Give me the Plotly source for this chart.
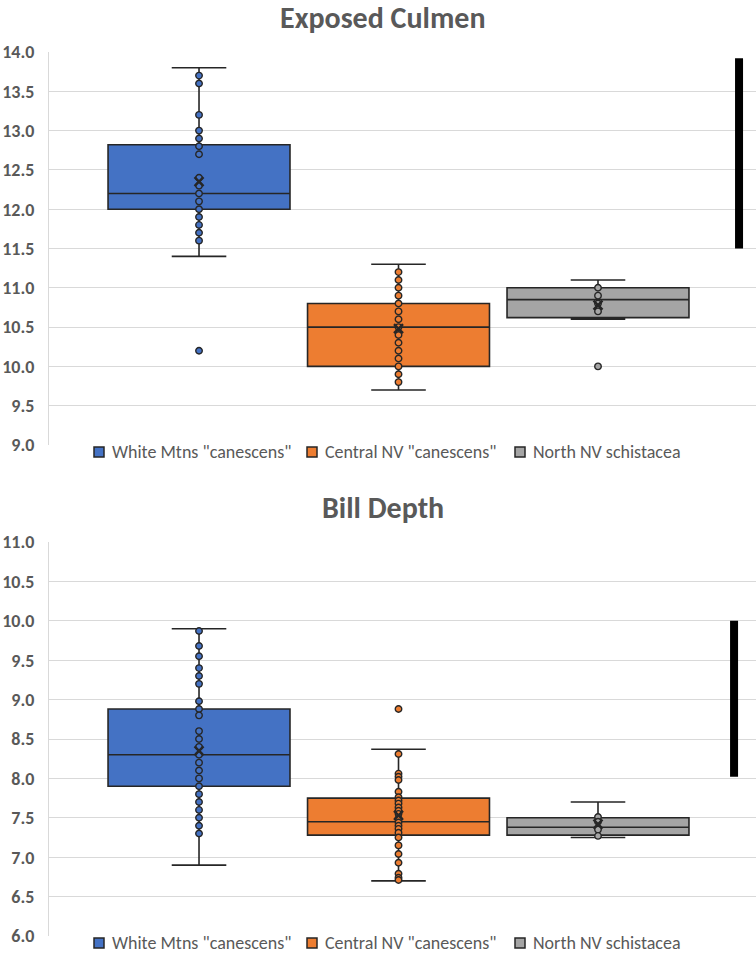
import plotly.graph_objects as go

# ---------------- data ----------------
groups = ['White Mtns "canescens"', 'Central NV "canescens"', 'North NV schistacea']
colors = ["#4472C4", "#ED7D31", "#A5A5A5"]
positions = [0, 1, 2]

# Exposed Culmen
culmen_q1 = [12.0, 10.0, 10.62]
culmen_median = [12.2, 10.5, 10.85]
culmen_q3 = [12.82, 10.8, 11.0]
culmen_low = [11.4, 9.7, 10.6]
culmen_high = [13.8, 11.3, 11.1]
culmen_mean = [12.35, 10.48, 10.78]
culmen_points = [
    [13.7, 13.6, 13.2, 13.0, 12.9, 12.8, 12.7, 12.4, 12.3, 12.2, 12.1, 12.0,
     11.9, 11.8, 11.7, 11.6, 10.2],
    [11.2, 11.1, 11.0, 10.9, 10.8, 10.7, 10.6, 10.5, 10.4, 10.3, 10.2, 10.1,
     10.0, 9.9, 9.8],
    [11.0, 10.9, 10.8, 10.7, 10.0],
]
culmen_bar = [11.5, 13.92]

# Bill Depth
depth_q1 = [7.9, 7.28, 7.28]
depth_median = [8.3, 7.45, 7.38]
depth_q3 = [8.88, 7.75, 7.5]
depth_low = [6.9, 6.7, 7.25]
depth_high = [9.9, 8.37, 7.7]
depth_mean = [8.35, 7.53, 7.42]
depth_points = [
    [9.87, 9.68, 9.55, 9.4, 9.3, 9.2, 8.98, 8.88, 8.8, 8.6, 8.5, 8.4, 8.3,
     8.2, 8.1, 8.0, 7.9, 7.8, 7.7, 7.6, 7.5, 7.4, 7.3],
    [8.88, 8.31, 8.06, 8.02, 7.98, 7.83, 7.76, 7.72, 7.68, 7.63, 7.59, 7.55,
     7.49, 7.44, 7.4, 7.36, 7.31, 7.25, 7.15, 7.04, 6.93, 6.79, 6.74, 6.71],
    [7.51, 7.45, 7.35, 7.27],
]
depth_bar = [8.02, 10.0]

culmen_ticks = [9.0, 9.5, 10.0, 10.5, 11.0, 11.5, 12.0, 12.5, 13.0, 13.5, 14.0]
depth_ticks = [6.0, 6.5, 7.0, 7.5, 8.0, 8.5, 9.0, 9.5, 10.0, 10.5, 11.0]
bar_positions = [2.707, 2.682]

# ---------------- figure ----------------
FONT = "Calibri, Carlito, 'Open Sans', sans-serif"
TXT = "#595959"
EDGE = "#262626"
W, H = 756, 955
L = 49
PW = W - L

fig = go.Figure()


def add_panel(xa, ya, q1, med, q3, lo, hi, mean, pts, bar, barpos):
    for i, g in enumerate(groups):
        fig.add_trace(go.Box(
            x=[positions[i]], q1=[q1[i]], median=[med[i]], q3=[q3[i]],
            lowerfence=[lo[i]], upperfence=[hi[i]], name=g,
            width=0.912, whiskerwidth=0.3, boxpoints=False,
            fillcolor=colors[i], line=dict(color=EDGE, width=1.6),
            xaxis=xa, yaxis=ya, showlegend=False, hoverinfo="skip"))
        fig.add_trace(go.Scatter(
            x=[positions[i]] * len(pts[i]), y=pts[i], mode="markers",
            marker=dict(symbol="circle", size=6.5, color=colors[i],
                        line=dict(color=EDGE, width=1.4)),
            xaxis=xa, yaxis=ya, showlegend=False, hoverinfo="skip"))
        fig.add_trace(go.Scatter(
            x=[positions[i]], y=[mean[i]], mode="markers",
            marker=dict(symbol="x-thin", size=9,
                        line=dict(color=EDGE, width=2.4)),
            xaxis=xa, yaxis=ya, showlegend=False, hoverinfo="skip"))
    fig.add_trace(go.Scatter(
        x=[barpos, barpos], y=bar, mode="lines",
        line=dict(color="black", width=8),
        xaxis=xa, yaxis=ya, showlegend=False, hoverinfo="skip"))


add_panel("x", "y", culmen_q1, culmen_median, culmen_q3, culmen_low,
          culmen_high, culmen_mean, culmen_points, culmen_bar, bar_positions[0])
add_panel("x2", "y2", depth_q1, depth_median, depth_q3, depth_low,
          depth_high, depth_mean, depth_points, depth_bar, bar_positions[1])


def ydom(top_px, bot_px):
    return [1 - bot_px / H, 1 - top_px / H]


def px_x(p):
    return (p - L) / PW


def px_y(p):
    return 1 - p / H


xcommon = dict(range=[-0.752, 2.792], showgrid=False, zeroline=False,
               showticklabels=False, ticks="", showline=False,
               automargin=False, fixedrange=True)
ycommon = dict(showgrid=True, gridcolor="#d9d9d9", gridwidth=1, zeroline=False,
               showline=True, linecolor="#d9d9d9", linewidth=1, ticks="",
               tickformat=".1f", ticklabelstandoff=10, automargin=False,
               tickfont=dict(family=FONT, size=18, color=TXT, weight="bold"))

# manual Excel-style legends (one under each panel)
shapes = []
annotations = []
icon_px = [94, 307, 515]
for row_y in (452, 943):
    shapes.append(dict(type="rect", xref="paper", yref="paper",
                       x0=px_x(80), x1=px_x(692), y0=px_y(row_y + 9),
                       y1=px_y(row_y - 9), fillcolor="white",
                       line=dict(width=0), layer="above"))
    for i, g in enumerate(groups):
        shapes.append(dict(type="rect", xref="paper", yref="paper",
                           x0=px_x(icon_px[i]), x1=px_x(icon_px[i] + 10),
                           y0=px_y(row_y + 5), y1=px_y(row_y - 5),
                           fillcolor=colors[i],
                           line=dict(color=EDGE, width=1.5), layer="above"))
        annotations.append(dict(text=g, xref="paper", yref="paper",
                                x=px_x(icon_px[i] + 16), y=px_y(row_y),
                                xanchor="left", yanchor="middle",
                                showarrow=False,
                                font=dict(family=FONT, size=18, color=TXT)))

annotations.append(dict(text="<b>Exposed Culmen</b>", xref="paper", yref="paper",
                        x=px_x(383), y=px_y(18), xanchor="center",
                        yanchor="middle", showarrow=False,
                        font=dict(family=FONT, size=30, color=TXT)))
annotations.append(dict(text="<b>Bill Depth</b>", xref="paper", yref="paper",
                        x=px_x(383), y=px_y(507), xanchor="center",
                        yanchor="middle", showarrow=False,
                        font=dict(family=FONT, size=30, color=TXT)))

fig.update_layout(
    width=W, height=H,
    margin=dict(l=L, r=0, t=0, b=0, autoexpand=False),
    paper_bgcolor="white", plot_bgcolor="white",
    showlegend=False,
    xaxis=dict(domain=[0, 1], anchor="y", **xcommon),
    xaxis2=dict(domain=[0, 1], anchor="y2", **xcommon),
    yaxis=dict(domain=ydom(52, 445), anchor="x", range=[9.0, 14.0],
               tickvals=culmen_ticks, **ycommon),
    yaxis2=dict(domain=ydom(542, 936), anchor="x2", range=[6.0, 11.0],
                tickvals=depth_ticks, **ycommon),
    shapes=shapes,
    annotations=annotations,
)

fig.write_html(
    "out.html",
    config={"displayModeBar": False, "staticPlot": True},
    post_script="document.body.style.margin='0px';"
                "document.body.style.overflow='hidden';",
)
